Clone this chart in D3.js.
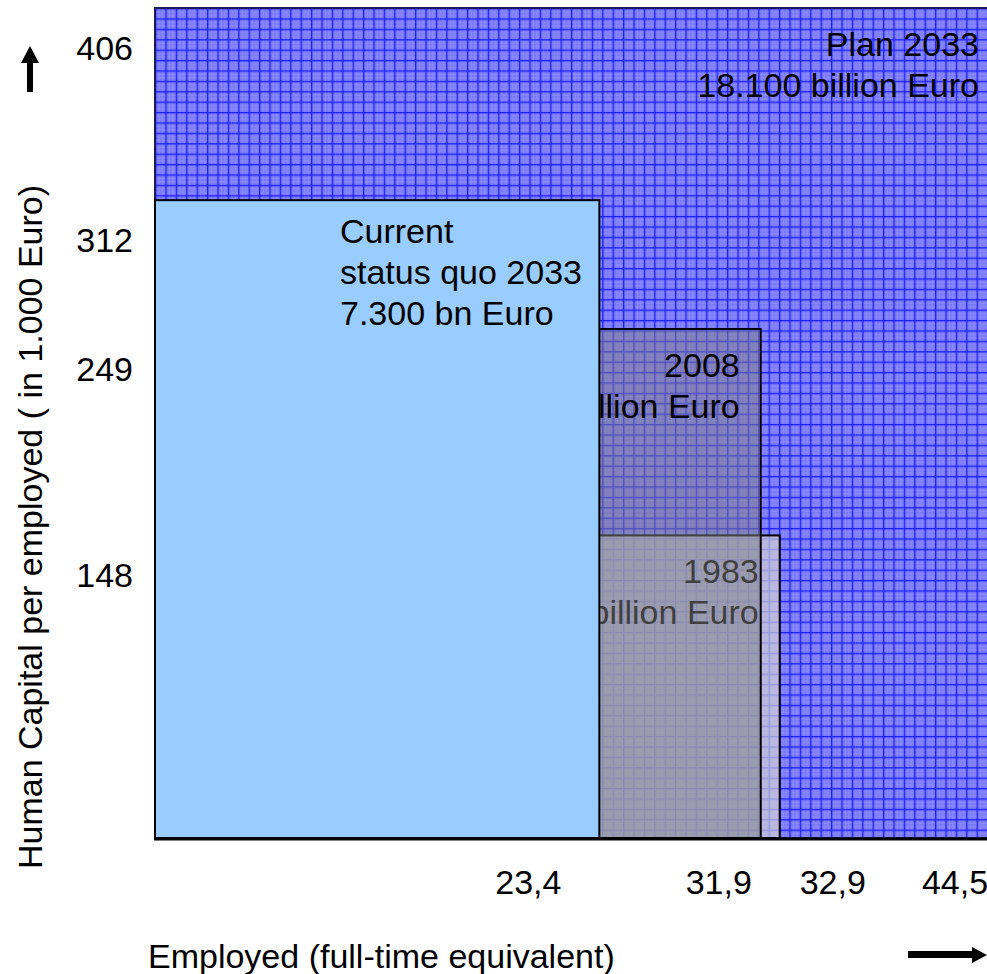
<!DOCTYPE html>
<html>
<head>
<meta charset="utf-8">
<script src="https://d3js.org/d3.v7.min.js"></script>
<style>
  body { margin: 0; background: #ffffff; }
  svg { display: block; font-family: "Liberation Sans", Arial, sans-serif; }
</style>
</head>
<body>
<svg id="chart"></svg>
<script>

///////////////////////////////////////////////////
// datos: empleados (millones) y capital por empleado
///////////////////////////////////////////////////

var nombres   = ["Plan 2033", "1983", "2008", "Current status quo 2033"];
var empleados = [44.5, 32.9, 31.9, 23.4];
var capital   = [406, 148, 249, 312];
var textos    = [["Plan 2033", "18.100 billion Euro"],
                 ["1983", "4.900 billion Euro"],
                 ["2008", "7.900 billion Euro"],
                 ["Current", "status quo 2033", "7.300 bn Euro"]];

var xTicks = [23.4, 31.9, 32.9, 44.5];
var xTickLabels = ["23,4", "31,9", "32,9", "44,5"];
var yTicks = [406, 312, 249, 148];
var yTickLabels = ["406", "312", "249", "148"];

var xTitulo = "Employed (full-time equivalent)";
var yTitulo = "Human Capital per employed ( in 1.000 Euro)";

// corrimiento horizontal de las etiquetas del eje x (layout)
var xTickShift = [-71, -42, 53, -45];

var w = 987;
var h = 974;

var svg = d3.select("#chart")
    .attr("width", w)
    .attr("height", h);

// escalas

var xScale = d3.scaleLinear()
               .domain([0, 44.5])
               .range([155, 1000]);

var yScale = d3.scaleLinear()
               .domain([0, 406])
               .range([838, 8]);

// patron de cuadricula azul

var defs = svg.append("defs");

var cel = 10.4;
var pat = defs.append("pattern")
    .attr("id", "cuadricula")
    .attr("patternUnits", "userSpaceOnUse")
    .attr("x", 155)
    .attr("y", 8)
    .attr("width", cel)
    .attr("height", cel);

pat.append("rect").attr("width", cel).attr("height", cel).attr("fill", "#7777fc");
[3.5, 7].forEach(function(p) {
    pat.append("rect").attr("x", p).attr("y", 0).attr("width", 1).attr("height", cel).attr("fill", "#8c8cff");
    pat.append("rect").attr("x", 0).attr("y", p).attr("width", cel).attr("height", 1).attr("fill", "#8c8cff");
});
pat.append("rect").attr("x", 0).attr("y", 0).attr("width", 1.3).attr("height", cel).attr("fill", "#2020ff");
pat.append("rect").attr("x", 0).attr("y", 0).attr("width", cel).attr("height", 1.3).attr("fill", "#2020ff");

// estilos de cada rectangulo

var rellenos  = ["url(#cuadricula)", "#d2d2d2", "#808080", "#99ccff"];
var opacidad  = [1, 0.68, 0.5, 1];
var bordes    = ["#1a1a60", "#000000", "#000000", "#000000"];

var fs = 34;

// rectangulos y textos en orden de dibujo

nombres.forEach(function(n, i) {

    svg.append("rect")
        .attr("x", xScale(0))
        .attr("y", yScale(capital[i]))
        .attr("width", xScale(empleados[i]) - xScale(0))
        .attr("height", yScale(0) - yScale(capital[i]))
        .attr("fill", rellenos[i])
        .attr("fill-opacity", opacidad[i])
        .attr("stroke", bordes[i])
        .attr("stroke-width", 2);

    var t = svg.append("text")
        .style("font-size", fs + "px")
        .attr("fill", "#000");

    if (i == 3) {
        // texto del status quo alineado a la izquierda
        t.attr("x", 340).attr("y", yScale(capital[i]) + 43);
        textos[i].forEach(function(s, k) {
            t.append("tspan").attr("x", 340).attr("dy", k == 0 ? 0 : 41).text(s);
        });
    } else {
        var xr = xScale(empleados[i]) - 21;
        t.attr("x", xr).attr("y", yScale(capital[i]) + 48)
         .style("text-anchor", "end");
        textos[i].forEach(function(s, k) {
            t.append("tspan").attr("x", xr).attr("dy", k == 0 ? 0 : 41).text(s);
        });
    }
});

// linea base

svg.append("line")
    .attr("x1", xScale(0) - 1)
    .attr("x2", w)
    .attr("y1", yScale(0) + 1)
    .attr("y2", yScale(0) + 1)
    .attr("stroke", "#000")
    .attr("stroke-width", 3);

// etiquetas del eje y

svg.selectAll(".ytick")
    .data(yTicks)
    .enter()
    .append("text")
    .attr("class", "ytick")
    .attr("x", 133)
    .attr("y", function(d) { return yScale(d) + 52; })
    .style("text-anchor", "end")
    .style("font-size", fs + "px")
    .text(function(d, i) { return yTickLabels[i]; });

// etiquetas del eje x

svg.selectAll(".xtick")
    .data(xTicks)
    .enter()
    .append("text")
    .attr("class", "xtick")
    .attr("x", function(d, i) { return xScale(d) + xTickShift[i]; })
    .attr("y", 894)
    .style("text-anchor", "middle")
    .style("font-size", fs + "px")
    .text(function(d, i) { return xTickLabels[i]; });

// titulos de los ejes

svg.append("text")
    .attr("x", 148)
    .attr("y", 968)
    .style("font-size", fs + "px")
    .text(xTitulo);

svg.append("text")
    .attr("transform", "translate(42,527) rotate(-90)")
    .style("text-anchor", "middle")
    .style("font-size", fs + "px")
    .text(yTitulo);

// flechas

svg.append("path")
    .attr("d", "M27,92 L27,63 L21,63 L30,46 L39,63 L33,63 L33,92 Z")
    .attr("fill", "#000");

svg.append("path")
    .attr("d", "M908,951 L972,951 L972,947 L987,955 L972,963 L972,958 L908,958 Z")
    .attr("fill", "#000");

</script>
</body>
</html>
